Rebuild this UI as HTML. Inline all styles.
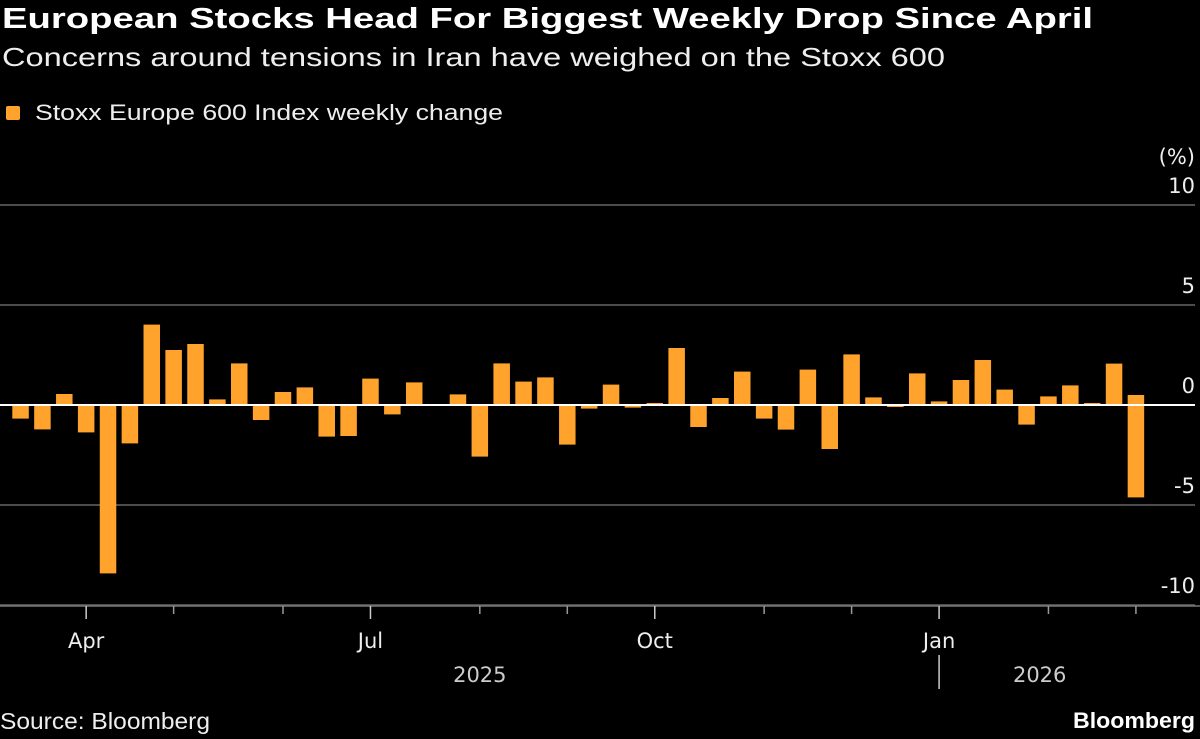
<!DOCTYPE html>
<html><head><meta charset="utf-8"><style>
html,body{margin:0;padding:0;background:#000;}
body{width:1200px;height:739px;overflow:hidden;position:relative;font-family:"Liberation Sans","DejaVu Sans",sans-serif;color:#fff;}
.t{position:absolute;white-space:nowrap;transform-origin:0 0;}
</style></head><body>
<div class="t fit" data-w="1091" style="left:2px;top:3px;font-size:29px;font-weight:bold;">European Stocks Head For Biggest Weekly Drop Since April</div>
<div class="t fit" data-w="943" style="left:2px;top:42px;font-size:26px;color:#eee;">Concerns around tensions in Iran have weighed on the Stoxx 600</div>
<div style="position:absolute;left:6px;top:106px;width:14px;height:14px;background:#ffa32d;border-radius:2px;"></div>
<div class="t fit" data-w="468" style="left:35px;top:100px;font-size:22px;color:#eee;">Stoxx Europe 600 Index weekly change</div>
<svg id="chart" width="1200" height="739" style="position:absolute;left:0;top:0;"></svg>
<div class="t fit" data-w="210" style="left:0px;top:708px;font-size:23px;color:#eee;">Source: Bloomberg</div>
<div class="t fit" data-w="122" style="left:1073px;top:708px;font-size:22px;font-weight:bold;">Bloomberg</div>
<script>
const values = [-0.68,-1.22,0.55,-1.37,-8.42,-1.92,4.02,2.75,3.05,0.28,2.08,-0.75,0.65,0.88,-1.58,-1.55,1.32,-0.47,1.13,-0.02,0.53,-2.58,2.08,1.17,1.38,-1.98,-0.18,1.02,-0.13,0.1,2.85,-1.1,0.35,1.67,-0.68,-1.23,1.77,-2.2,2.53,0.38,-0.1,1.58,0.18,1.25,2.25,0.77,-0.98,0.43,0.98,0.1,2.07,-4.62];
const overlayValues = [0.5];
const yTicks = [10,5,0,-5,-10];
const monthLabels = ["Apr","Jul","Oct","Jan"];
const monthIdx = [3,16,29,42];
const minorIdx = [7,12,21,25,34,38,47,51];
const yearLabels = ["2025","2026"];
const yearIdx = [21,46.6];

document.querySelectorAll('.fit').forEach(el=>{
  const w = el.getBoundingClientRect().width;
  const target = parseFloat(el.getAttribute('data-w'));
  el.style.transform = 'scaleX(' + (target / w) + ')';
});

const svg = document.getElementById('chart');
const NS = 'http://www.w3.org/2000/svg';
const y = v => 405 - v*20;
const xLeft = i => 12.3 + i*21.87;
const bw = 16.5;
const xC = i => xLeft(i) + bw/2;
function mk(tag, attrs){const e=document.createElementNS(NS,tag);for(const k in attrs)e.setAttribute(k,attrs[k]);svg.appendChild(e);return e;}
const FF = 'DejaVu Sans, Liberation Sans, sans-serif';

yTicks.forEach(t=>{
  const l = mk('line',{x1:0,x2:1195,y1:y(t),y2:y(t),stroke:t===0?'#fff':'#666','stroke-width':t===0?2:1.5});
  
  
  const tx = mk('text',{x:1195,y:y(t)-12,'text-anchor':'end',fill:'#eee','font-size':21,'font-family':FF});
  tx.textContent = String(t);
  
  
});
const unit = mk('text',{x:1195,y:164,'text-anchor':'end',fill:'#eee','font-size':21,'font-family':FF});
unit.textContent='(%)';



const ax = mk('line',{x1:0,x2:1200,y1:606,y2:606,stroke:'#777','stroke-width':1.5});



values.forEach((v,i)=>{
  const r = mk('rect',{x:xLeft(i),y:Math.min(y(v),y(0)),width:bw,height:Math.abs(y(v)-y(0)),fill:'#ffa32d'});
  
  
});
overlayValues.forEach((v,j)=>{
  const i = values.length-1-j;
  const r = mk('rect',{x:xLeft(i),y:Math.min(y(v),y(0)),width:bw,height:Math.abs(y(v)-y(0)),fill:'#ffa32d'});
  
  
});
const z = mk('line',{x1:0,x2:1195,y1:405,y2:405,stroke:'#fff','stroke-width':2});



monthIdx.forEach((m,k)=>{
  const t = mk('line',{x1:xC(m),x2:xC(m),y1:606,y2:619,stroke:'#ccc','stroke-width':1.5});
  
  
  const tx = mk('text',{x:xC(m),y:648,'text-anchor':'middle',fill:'#eee','font-size':21,'font-family':FF});
  tx.textContent = monthLabels[k];
  
  
});
minorIdx.forEach(m=>{
  const t = mk('line',{x1:xC(m),x2:xC(m),y1:606,y2:614,stroke:'#999','stroke-width':1.5});
  
  
});
yearLabels.forEach((lab,k)=>{
  const tx = mk('text',{x:xC(yearIdx[k]),y:682,'text-anchor':'middle',fill:'#ccc','font-size':21,'font-family':FF});
  tx.textContent = lab;
  
  
});
const div = mk('line',{x1:xC(42),x2:xC(42),y1:655,y2:689,stroke:'#ccc','stroke-width':1.5});


</script>
</body></html>
